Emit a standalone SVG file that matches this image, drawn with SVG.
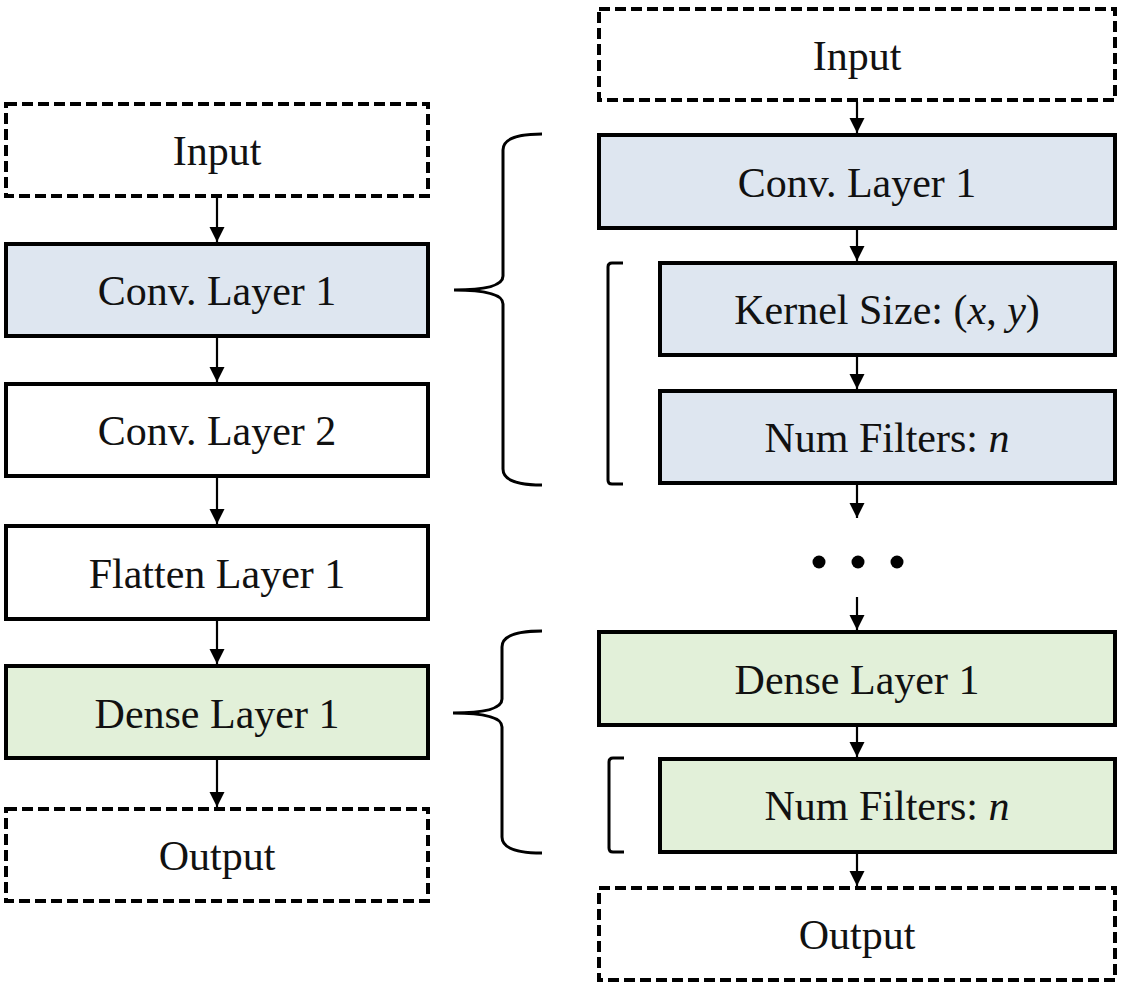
<svg xmlns="http://www.w3.org/2000/svg" width="1123" height="985" viewBox="0 0 1123 985">
<style>
.box{stroke:#000;stroke-width:4;fill:#fff}
.dash{stroke:#000;stroke-width:4;fill:#fff;stroke-dasharray:11 5}
.blue{fill:#dee6f0}
.green{fill:#e2f0d9}
.t{font-family:"Liberation Serif","Times New Roman",serif;font-size:42px;fill:#111;text-anchor:middle}
.c{stroke:#000;stroke-width:2.2;fill:none}
.br{stroke:#000;stroke-width:3;fill:none}
</style>
<defs>
<marker id="ah" markerUnits="userSpaceOnUse" markerWidth="17" markerHeight="17" viewBox="0 0 17 17" refX="15" refY="8.5" orient="auto">
<path d="M0,1 L15,8.5 L0,16 Z" fill="#000"/>
</marker>
</defs>
<rect width="1123" height="985" fill="#fff"/>

<g id="connectors">
<line class="c" x1="217" y1="198" x2="217" y2="242" marker-end="url(#ah)"/>
<line class="c" x1="217" y1="338" x2="217" y2="382" marker-end="url(#ah)"/>
<line class="c" x1="217" y1="478" x2="217" y2="524" marker-end="url(#ah)"/>
<line class="c" x1="217" y1="621" x2="217" y2="664" marker-end="url(#ah)"/>
<line class="c" x1="217" y1="760" x2="217" y2="807" marker-end="url(#ah)"/>
<line class="c" x1="857" y1="102" x2="857" y2="133" marker-end="url(#ah)"/>
<line class="c" x1="857" y1="230" x2="857" y2="261" marker-end="url(#ah)"/>
<line class="c" x1="857" y1="357" x2="857" y2="389" marker-end="url(#ah)"/>
<line class="c" x1="857" y1="485" x2="857" y2="518" marker-end="url(#ah)"/>
<line class="c" x1="857" y1="597" x2="857" y2="630" marker-end="url(#ah)"/>
<line class="c" x1="857" y1="727" x2="857" y2="757" marker-end="url(#ah)"/>
<line class="c" x1="857" y1="854" x2="857" y2="886" marker-end="url(#ah)"/>
</g>

<g id="braces">
<path class="br" d="M542,134 Q503,134 503,150 L503,276 Q503,290 454,290 Q503,290 503,304 L503,469 Q503,485 542,485"/>
<path class="br" d="M542,631 Q502,631 502,647 L502,699 Q502,713 453,713 Q502,713 502,727 L502,837 Q502,853 542,853"/>
<path class="br" d="M623,263 L612,263 Q608,263 608,267 L608,480 Q608,484 612,484 L623,484"/>
<path class="br" d="M624,758 L613,758 Q609,758 609,762 L609,848 Q609,852 613,852 L624,852"/>
</g>

<g id="ellipsis">
<circle cx="819" cy="562" r="6.5" fill="#000"/>
<circle cx="858" cy="562" r="6.5" fill="#000"/>
<circle cx="897" cy="562" r="6.5" fill="#000"/>
</g>

<g id="l-input"><rect class="dash" x="6" y="104" width="422" height="92"/><text class="t" x="217" y="165">Input</text></g>
<g id="l-conv1"><rect class="box blue" x="6" y="244" width="422" height="92"/><text class="t" x="217" y="305">Conv. Layer 1</text></g>
<g id="l-conv2"><rect class="box" x="6" y="384" width="422" height="92"/><text class="t" x="217" y="445">Conv. Layer 2</text></g>
<g id="l-flatten"><rect class="box" x="6" y="526" width="422" height="93"/><text class="t" x="217" y="588">Flatten Layer 1</text></g>
<g id="l-dense"><rect class="box green" x="6" y="666" width="422" height="92"/><text class="t" x="217" y="728">Dense Layer 1</text></g>
<g id="l-output"><rect class="dash" x="6" y="809" width="422" height="92"/><text class="t" x="217" y="870">Output</text></g>

<g id="r-input"><rect class="dash" x="599" y="9" width="516" height="91"/><text class="t" x="857" y="70">Input</text></g>
<g id="r-conv1"><rect class="box blue" x="599" y="135" width="516" height="93"/><text class="t" x="857" y="197">Conv. Layer 1</text></g>
<g id="r-kernel"><rect class="box blue" x="660" y="263" width="455" height="92"/><text class="t" x="887" y="324">Kernel Size: (<tspan font-style="italic">x</tspan>, <tspan font-style="italic">y</tspan>)</text></g>
<g id="r-filters"><rect class="box blue" x="660" y="391" width="455" height="92"/><text class="t" x="887" y="452">Num Filters: <tspan font-style="italic">n</tspan></text></g>
<g id="r-dense"><rect class="box green" x="599" y="632" width="516" height="93"/><text class="t" x="857" y="694">Dense Layer 1</text></g>
<g id="r-dfilters"><rect class="box green" x="660" y="759" width="455" height="93"/><text class="t" x="887" y="820">Num Filters: <tspan font-style="italic">n</tspan></text></g>
<g id="r-output"><rect class="dash" x="599" y="888" width="516" height="92"/><text class="t" x="857" y="949">Output</text></g>
</svg>
